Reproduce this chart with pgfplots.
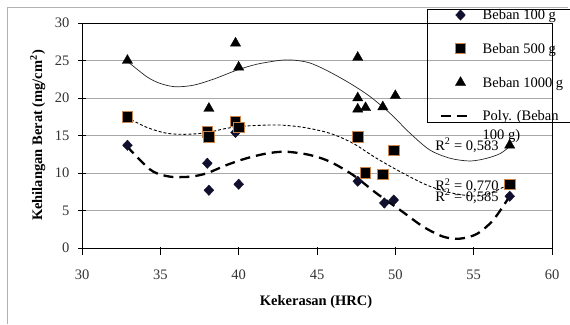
\documentclass[border=0pt]{standalone}
\usepackage{pgfplots}
\pgfplotsset{compat=1.18}
\usepackage{fontspec}
\setmainfont{Liberation Serif}
\newcommand{\fs}{\fontsize{14.5pt}{17pt}\selectfont}
\definecolor{gridc}{HTML}{A8A8A8}
\definecolor{navy}{HTML}{10102E}
\definecolor{sqedge}{HTML}{C8844A}
\begin{document}
\begin{tikzpicture}[x=1pt,y=1pt]
\begin{scope}
\clip (0,0) rectangle (570,324);
\draw[black!30, line width=0.8pt] (7,0) -- (7,317) -- (568,317);
\begin{axis}[
  at={(82pt,76pt)}, anchor=south west,
  scale only axis, width=470pt, height=225pt,
  xmin=30, xmax=60, ymin=0, ymax=30,
  xtick={30,35,...,60}, ytick={0,5,...,30},
  ymajorgrids, grid style={gridc, line width=0.8pt},
  axis line style={black, line width=0.8pt},
  tick style={black, line width=0.8pt},
  tick align=center, major tick length=8pt,
  x tick style={yshift=-3pt},
  xtick pos=bottom, ytick pos=left,
  /pgf/number format/assume math mode=true,
  ticklabel style={font=\fs, text=black!80},
  yticklabel style={xshift=-5pt},
  xticklabel style={yshift=-14pt},
  xlabel={\bfseries Kekerasan (HRC)},
  ylabel={\bfseries Kehilangan Berat (mg/cm\textsuperscript{2})},
  label style={font=\fs},
  xlabel style={at={(axis description cs:0.498,-0.24)}, anchor=center},
  ylabel style={at={(axis description cs:-0.094,0.5)}, anchor=center},
  legend image code/.code={\draw[mark repeat=2,mark phase=2,#1] plot coordinates {(0pt,4.5pt) (20pt,4.5pt) (30pt,4.5pt)};},
  legend style={at={(axis description cs:0.734,1.062)}, anchor=north west,
    draw=black, line width=0.8pt, fill=none, font=\fs,
    cells={anchor=base west}, nodes={inner ysep=0pt},
    row sep=22pt, column sep=9pt, inner xsep=12pt, inner ysep=0pt},
]
% trend lines
\addplot[forget plot, black!85, line width=0.7pt, smooth] coordinates {
(32.85,24.97) (34.13,22.84) (34.98,21.95) (35.94,21.5) (37.1,21.7) (38.38,22.5)
(39.87,23.7) (41.15,24.5) (42.64,25.02) (43.5,25.05) (44.5,24.7) (45.6,23.7)
(47.1,21.96) (48.38,20.2) (49.66,17.96) (50.94,15.3) (52.2,13.07) (53.5,11.96)
(54.77,11.6) (55.83,11.96) (56.7,12.6) (57.28,13.5)};
\addplot[forget plot, black, line width=0.9pt, dash pattern=on 3pt off 2pt, smooth] coordinates {
(32.85,17.42) (34.13,16.09) (35.4,15.3) (36.68,15.16) (37.96,15.38) (39.24,15.96)
(40.5,16.27) (42.0,16.4) (42.64,16.4) (44.13,16.09) (45.83,15.29) (47.3,13.96)
(48.8,11.96) (50.5,9.96) (52.0,8.4) (53.5,7.38) (55.0,6.93) (56.04,7.29) (57.28,8.53)};
\addplot[forget plot, black, line width=2.3pt, dash pattern=on 10pt off 6pt, smooth] coordinates {
(32.85,13.6) (33.7,11.73) (34.55,10.18) (35.62,9.51) (36.9,9.51) (37.96,9.96)
(39.24,11.07) (40.5,11.96) (41.79,12.6) (43.0,12.84) (44.55,12.4) (45.83,11.51)
(47.3,9.73) (48.8,7.29) (50.3,5.07) (51.78,2.84) (53.06,1.51) (54.1,1.24)
(55.2,1.87) (56.25,3.73) (57.28,6.84)};
% data
\addplot[only marks, mark=diamond*, mark size=5.2pt, mark options={fill=navy, draw=navy, line width=0.4pt, xscale=1.25}] coordinates {
(32.9,13.7) (38.0,11.3) (38.1,7.7) (39.8,15.4) (40.0,8.5) (47.6,8.9)
(49.3,6.0) (49.9,6.4) (57.3,6.9)};
\addlegendentry{\makebox[100pt][l]{Beban 100 g}}
\addplot[only marks, mark=square*, mark size=5.2pt, mark options={fill=black, draw=sqedge, line width=0.7pt}] coordinates {
(32.9,17.5) (38.0,15.5) (38.1,14.8) (39.8,16.9) (40.0,16.1) (47.6,14.8)
(48.1,10.0) (49.2,9.8) (49.9,13.0) (57.3,8.5)};
\addlegendentry{Beban 500 g}
\addplot[only marks, mark=triangle*, mark size=6pt, mark options={fill=black, draw=black, line width=0.3pt}] coordinates {
(32.9,25.0) (38.1,18.6) (39.8,27.3) (40.0,24.1) (47.6,25.4) (47.6,20.0)
(47.6,18.5) (48.1,18.7) (49.2,18.8) (50.0,20.3) (57.3,13.7)};
\addlegendentry{Beban 1000 g}
\addlegendimage{black, line width=2.3pt, dash pattern=on 10pt off 6pt}
\addlegendentry{\rlap{\smash{\raisebox{-19pt}{100 g)}}}Poly. (Beban\rule[-19pt]{0pt}{0pt}}
% R^2 labels
\node[font=\fs, inner sep=0pt] at (axis cs:54.57,13.7) {R\textsuperscript{2} = 0,583};
\node[font=\fs, inner sep=0pt] at (axis cs:54.57,8.3) {R\textsuperscript{2} = 0,770};
\node[font=\fs, inner sep=0pt] at (axis cs:54.57,6.9) {R\textsuperscript{2} = 0,585};
\end{axis}
\end{scope}
\pgfresetboundingbox
\path[use as bounding box] (0,0) rectangle (570,324);
\end{tikzpicture}
\end{document}
